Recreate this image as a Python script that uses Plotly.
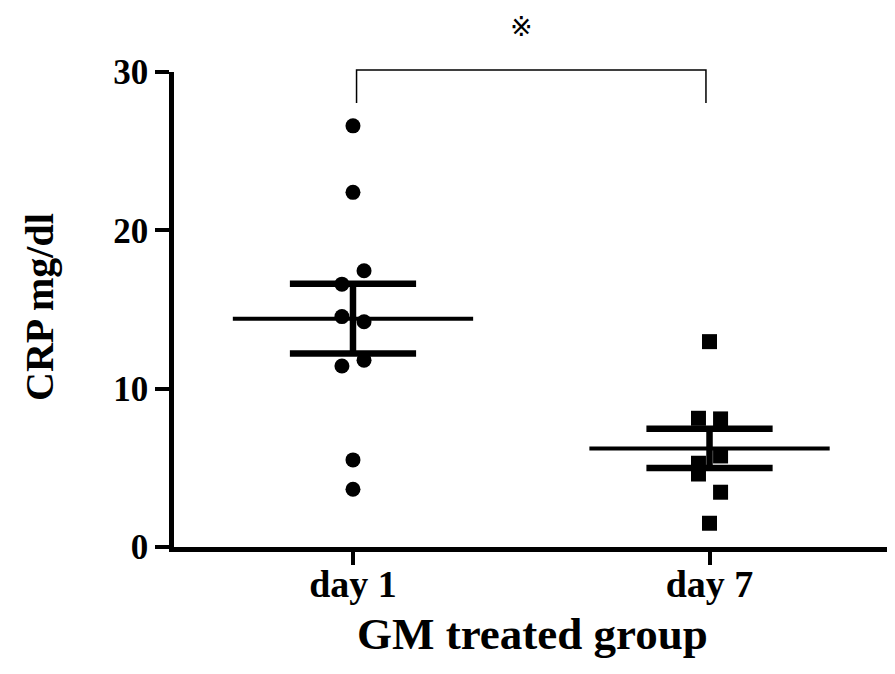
import numpy as np
import plotly.graph_objects as go

# ---- data ----
groups = ["day 1", "day 7"]
day1_crp = [26.6, 22.4, 17.45, 16.6, 14.55, 14.23, 11.8, 11.43, 5.5, 3.65]
day7_crp = [12.97, 8.13, 8.09, 5.75, 5.29, 4.61, 3.46, 1.5]
y_ticks = [0, 10, 20, 30]
significance_mark = "※"

# ---- layout helpers (jitter columns, not data) ----
day1_cols = [0, 0, 1, -1, -1, 1, 1, -1, 0, 0]
day7_cols = [0, -1, 1, 1, -1, -1, 1, 0]
JIT = 0.031
MEAN_HW = 0.337
CAP_HW = 0.177
FONT = "Liberation Serif"
PW, PH = 717, 475  # plot area size in px

fig = go.Figure()

def add_group(xc, vals, cols, symbol):
    vals = np.array(vals, dtype=float)
    m = vals.mean()
    sem = vals.std(ddof=1) / np.sqrt(len(vals))
    xs = [xc + c * JIT for c in cols]
    fig.add_trace(go.Scatter(x=xs, y=vals, mode="markers",
                             marker=dict(symbol=symbol, size=15, color="black",
                                         line=dict(width=0)),
                             showlegend=False, hoverinfo="y", cliponaxis=False))
    fig.add_trace(go.Scatter(x=[xc - MEAN_HW, xc + MEAN_HW], y=[m, m], mode="lines",
                             line=dict(color="black", width=4), showlegend=False,
                             hoverinfo="skip"))
    for v in (m + sem, m - sem):
        fig.add_trace(go.Scatter(x=[xc - CAP_HW, xc + CAP_HW], y=[v, v], mode="lines",
                                 line=dict(color="black", width=6.5), showlegend=False,
                                 hoverinfo="skip"))
    fig.add_trace(go.Scatter(x=[xc, xc], y=[m - sem, m + sem], mode="lines",
                             line=dict(color="black", width=6.5), showlegend=False,
                             hoverinfo="skip"))

add_group(1, day1_crp, day1_cols, "circle")
add_group(2, day7_crp, day7_cols, "square")

# significance bracket
fig.add_shape(type="path", xref="x", yref="paper",
              path="M 1.01,0.935 L 1.01,1.004 L 1.99,1.004 L 1.99,0.935",
              line=dict(color="black", width=1.5))
fig.add_annotation(text=significance_mark, xref="paper", yref="paper",
                   x=(521 - 174) / PW, y=(547 - 26) / PH, showarrow=False,
                   font=dict(family="DejaVu Sans", size=27, color="black"),
                   xanchor="center", yanchor="middle")

# stray tick at far left
fig.add_shape(type="line", xref="paper", yref="paper",
              x0=-174 / PW, x1=-170 / PW, y0=0, y1=0,
              line=dict(color="black", width=4))

# axis titles
fig.add_annotation(text="CRP mg/dl", xref="paper", yref="paper",
                   x=(39 - 174) / PW, y=(547 - 307) / PH, textangle=-90,
                   showarrow=False, xanchor="center", yanchor="middle",
                   font=dict(family=FONT, size=40, color="black", weight="bold"))
fig.add_annotation(text="GM treated group", xref="paper", yref="paper",
                   x=(532 - 174) / PW, y=(547 - 634) / PH,
                   showarrow=False, xanchor="center", yanchor="middle",
                   font=dict(family=FONT, size=45, color="black", weight="bold"))

# the page body has an 8px margin, so the figure is 8px smaller and shifted
fig.update_layout(
    width=887, height=666,
    margin=dict(l=166, r=4, t=64, b=127),
    paper_bgcolor="white", plot_bgcolor="white",
    xaxis=dict(range=[0.498, 2.509], tickvals=[1, 2], ticktext=groups,
               showgrid=False, zeroline=False, showline=True, linecolor="black",
               linewidth=4.5, ticks="outside", ticklen=13, tickwidth=3.5,
               tickcolor="black", ticklabelstandoff=-13,
               tickfont=dict(family=FONT, size=38, color="black", weight="bold")),
    yaxis=dict(range=[0, 30], tickvals=y_ticks, showgrid=False, zeroline=False,
               showline=True, linecolor="black", linewidth=4.5, ticks="outside",
               ticklen=14, tickwidth=3.5, tickcolor="black",
               tickfont=dict(family=FONT, size=35, color="black", weight="bold")),
)

fig.write_html("out.html")
